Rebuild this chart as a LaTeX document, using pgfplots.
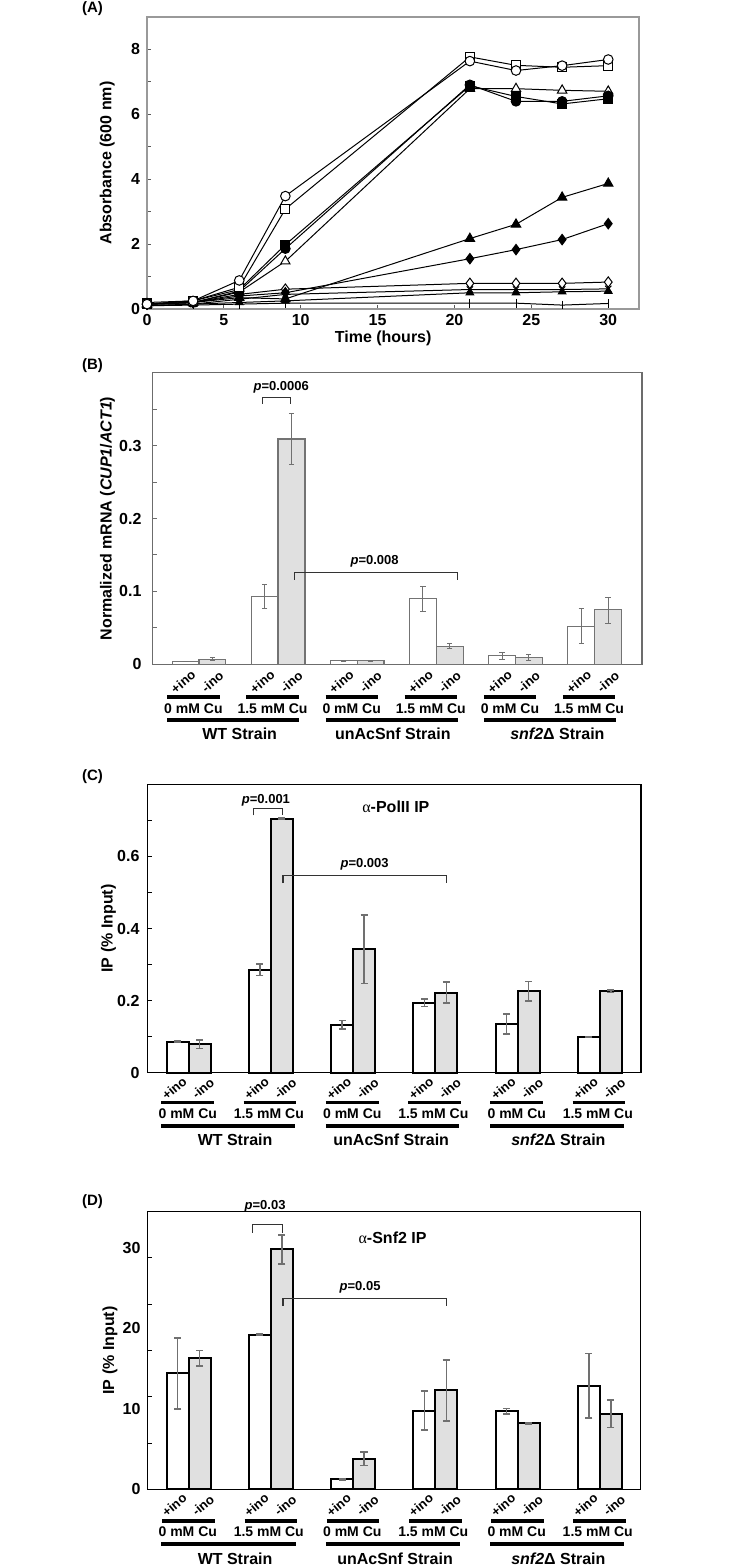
\documentclass[border=0pt]{standalone}
\usepackage{fontspec}
\setmainfont{Liberation Sans}
\newfontfamily\grk{Liberation Serif}
\usepackage{pgfplots}
\pgfplotsset{compat=1.18}
\newcommand\ftick{\bfseries\fontsize{8}{9.6}\selectfont}
\newcommand\flab{\bfseries\fontsize{8}{9.6}\selectfont}
\newcommand\fino{\bfseries\fontsize{6.5}{7.5}\selectfont}
\newcommand\fcu{\bfseries\fontsize{7}{8}\selectfont}
\newcommand\fstrain{\bfseries\fontsize{8}{9.6}\selectfont}
\newcommand\fpv{\bfseries\fontsize{6.5}{7.5}\selectfont}
\newcommand\fpanel{\bfseries\fontsize{7.5}{9}\selectfont}
\definecolor{barg}{HTML}{E0E0E0}
\definecolor{errg}{HTML}{707070}

\pgfplotstableread{
x y ep em
-0.1695 0.004 0.0005 0.0005
0.8305 0.093 0.017 0.017
1.8305 0.005 0.0005 0.0005
2.8305 0.090 0.017 0.018
3.8305 0.012 0.005 0.005
4.8305 0.052 0.024 0.024
}\Bwhite
\pgfplotstableread{
x y ep em
0.1695 0.007 0.002 0.002
1.1695 0.309 0.035 0.035
2.1695 0.005 0.0005 0.0005
3.1695 0.025 0.0035 0.0035
4.1695 0.010 0.004 0.004
5.1695 0.075 0.017 0.019
}\Bgray
\pgfplotstableread{
x y ep em
-0.1335 0.086 0.001 0.001
0.8665 0.286 0.016 0.016
1.8665 0.133 0.012 0.012
2.8665 0.194 0.010 0.010
3.8665 0.135 0.028 0.028
4.8665 0.098 0.001 0.001
}\Cwhite
\pgfplotstableread{
x y ep em
0.1335 0.079 0.012 0.012
1.1335 0.705 0.002 0.002
2.1335 0.342 0.095 0.095
3.1335 0.222 0.029 0.029
4.1335 0.226 0.027 0.027
5.1335 0.226 0.004 0.004
}\Cgray
\pgfplotstableread{
x y ep em
-0.1335 14.4 4.4 4.4
0.8665 19.2 0.1 0.1
1.8665 1.27 0.1 0.1
2.8665 9.8 2.45 2.45
3.8665 9.7 0.35 0.35
4.8665 12.9 4.0 4.0
}\Dwhite
\pgfplotstableread{
x y ep em
0.1335 16.3 0.95 0.95
1.1335 29.8 1.8 1.8
2.1335 3.8 0.85 0.85
3.1335 12.3 3.8 3.8
4.1335 8.2 0.05 0.05
5.1335 9.4 1.7 1.7
}\Dgray

\pgfplotsset{
  common/.style={
    scale only axis, anchor=north west, clip=false,
    tick label style={font=\ftick},
    /pgf/number format/assume math mode=true,
    ytick pos=left, xtick pos=bottom,
    major tick length=2pt, minor tick length=2pt,
  },
  barpanel/.style={
    common, ymin=0, xtick=\empty,
  },
  errB/.style={error bars/.cd, y dir=both, y explicit,
    error bar style={errg, line width=0.5pt},
    error mark options={errg, rotate=90, mark size=1.3pt, line width=0.5pt}},
  errC/.style={error bars/.cd, y dir=both, y explicit,
    error bar style={errg, line width=0.8pt},
    error mark options={errg, rotate=90, mark size=1.8pt, line width=0.8pt}},
}

\begin{document}
\begin{tikzpicture}[font=\bfseries]
\useasboundingbox (0,0) rectangle (365pt,-783.5pt);

% ---------------- Panel A ----------------
\node[anchor=east,font=\fpanel] at (55pt,-4.5pt) {(A)};
\begin{axis}[common,
  at={(73.5pt,-8.5pt)}, width=246pt, height=146pt,
  xmin=0, xmax=32, ymin=0, ymax=9,
  xtick={0,5,...,30}, ytick={0,2,4,6,8}, minor ytick={1,3,5,7},
  axis line style={gray!80, line width=0.7pt},
  tick style={gray!70!black, line width=0.5pt},
  xticklabel style={yshift=1pt},
  xlabel={Time (hours)}, ylabel={Absorbance (600 nm)},
  every axis y label/.style={at={(rel axis cs:-0.081,0.5)}, rotate=90, anchor=center, font=\flab},
  every axis x label/.style={at={(rel axis cs:0.48,0)}, yshift=-14.6pt, anchor=center, font=\flab},
  every axis plot/.append style={black, line width=0.5pt, mark options={solid}},
]
% plus marks
\addplot[mark=|, mark size=2.2pt] coordinates {(0,0.1) (3,0.12) (6,0.15) (9,0.18) (21,0.18) (24,0.18) (27,0.12) (30,0.17)};
% small filled triangle
\addplot[mark=triangle*, mark size=2.2pt] coordinates {(0,0.1) (3,0.15) (6,0.2) (9,0.25) (21,0.5) (24,0.5) (27,0.53) (30,0.55)};
% x marks
\addplot[mark=x, mark size=2.2pt] coordinates {(0,0.15) (3,0.15) (6,0.3) (9,0.45) (21,0.6) (24,0.6) (27,0.6) (30,0.62)};
% open diamond
\addplot[mark=diamond*, mark size=2.6pt, mark options={fill=white}] coordinates {(0,0.15) (3,0.2) (6,0.45) (9,0.61) (21,0.79) (24,0.79) (27,0.79) (30,0.83)};
% filled diamond
\addplot[mark=diamond*, mark size=2.6pt, mark options={fill=black}] coordinates {(0,0.15) (3,0.2) (6,0.4) (9,0.5) (21,1.55) (24,1.83) (27,2.14) (30,2.63)};
% filled triangle
\addplot[mark=triangle*, mark size=2.7pt, mark options={fill=black}] coordinates {(0,0.15) (3,0.2) (6,0.35) (9,0.31) (21,2.17) (24,2.61) (27,3.44) (30,3.87)};
% open triangle
\addplot[mark=triangle*, mark size=2.7pt, mark options={fill=white}] coordinates {(0,0.15) (3,0.2) (6,0.52) (9,1.47) (21,6.79) (24,6.79) (27,6.74) (30,6.71)};
% filled circle
\addplot[mark=*, mark size=2.4pt, mark options={fill=black}] coordinates {(0,0.15) (3,0.2) (6,0.55) (9,1.86) (21,6.91) (24,6.4) (27,6.4) (30,6.57)};
% filled square
\addplot[mark=square*, mark size=2.2pt, mark options={fill=black}] coordinates {(0,0.2) (3,0.25) (6,0.6) (9,1.98) (21,6.88) (24,6.55) (27,6.32) (30,6.48)};
% open square
\addplot[mark=square*, mark size=2.2pt, mark options={fill=white}] coordinates {(0,0.15) (3,0.25) (6,0.67) (9,3.08) (21,7.77) (24,7.51) (27,7.45) (30,7.5)};
% open circle
\addplot[mark=*, mark size=2.4pt, mark options={fill=white}] coordinates {(0,0.15) (3,0.25) (6,0.88) (9,3.48) (21,7.64) (24,7.35) (27,7.5) (30,7.69)};
\end{axis}

% ---------------- Panel B ----------------
\node[anchor=east,font=\fpanel] at (55pt,-183pt) {(B)};
\begin{axis}[barpanel,
  at={(76.25pt,-186.3pt)}, width=244.75pt, height=145.9pt,
  xmin=-0.587, xmax=5.599, ymax=0.4,
  ytick={0,0.1,0.2,0.3}, minor ytick={0.05,0.15,0.25,0.35},
  yticklabel style={xshift=-2pt},
  axis line style={gray!85!black, line width=0.6pt},
  tick style={gray!85!black, line width=0.5pt},
  ylabel={Normalized mRNA (\textit{CUP1}/\textit{ACT1})},
  every axis y label/.style={at={(rel axis cs:-0.092,0.5)}, rotate=90, anchor=center, font=\flab},
]
\addplot[ybar, bar width=0.339, bar shift=0pt, fill=white, draw=gray!90!black, line width=0.6pt, errB]
  table[x=x, y=y, y error plus=ep, y error minus=em] {\Bwhite};
\addplot[ybar, bar width=0.339, bar shift=0pt, fill=barg, draw=gray!90!black, line width=0.6pt, errB]
  table[x=x, y=y, y error plus=ep, y error minus=em] {\Bgray};
% p-value brackets
\draw[line width=0.6pt, black!80] (axis cs:0.80,0.357) -- (axis cs:0.80,0.366) -- (axis cs:1.152,0.366) -- (axis cs:1.152,0.357);
\node[font=\fpv] at (axis cs:1.04,0.380) {\textit{p}=0.0006};
\draw[line width=0.6pt, black!80] (axis cs:1.207,0.116) -- (axis cs:1.207,0.126) -- (axis cs:3.27,0.126) -- (axis cs:3.27,0.116);
\node[font=\fpv] at (axis cs:2.22,0.141) {\textit{p}=0.008};
% category labels
\pgfplotsinvokeforeach{0,1,2,3,4,5}{
  \path ([yshift=-8.7pt]axis cs:#1-0.2,0) node[rotate=40,font=\fino,inner sep=0pt] {+ino};
  \path ([yshift=-8.7pt]axis cs:#1+0.17,0) node[rotate=40,font=\fino,inner sep=0pt] {-ino};
  \draw[line width=1.8pt] ([yshift=-16.2pt]axis cs:#1-0.40,0) -- ([yshift=-16.2pt]axis cs:#1+0.26,0);
}
\pgfplotsinvokeforeach{0,2,4}{
  \path ([yshift=-22pt]axis cs:#1-0.07,0) node[font=\fcu] {0 mM Cu};
  \path ([yshift=-22pt]axis cs:#1+0.93,0) node[font=\fcu] {1.5 mM Cu};
  \draw[line width=1.8pt] ([yshift=-27.8pt]axis cs:#1-0.40,0) -- ([yshift=-27.8pt]axis cs:#1+1.27,0);
}
\path ([yshift=-34.8pt]axis cs:0.515,0) node[font=\fstrain] {WT Strain};
\path ([yshift=-34.8pt]axis cs:2.45,0) node[font=\fstrain] {unAcSnf Strain};
\path ([yshift=-34.8pt]axis cs:4.53,0) node[font=\fstrain] {\textit{snf2}Δ Strain};
\end{axis}

% ---------------- Panel C ----------------
\node[anchor=east,font=\fpanel] at (55pt,-388.5pt) {(C)};
\begin{axis}[barpanel,
  at={(73.75pt,-392.2pt)}, width=246.75pt, height=144.1pt,
  xmin=-0.5, xmax=5.5, ymax=0.8,
  ytick={0,0.2,0.4,0.6}, minor ytick={0.1,0.3,0.5,0.7},
  yticklabel style={xshift=-0.5pt},
  axis line style={black, line width=0.8pt},
  tick style={black, line width=0.5pt},
  ylabel={IP (\% Input)},
  every axis y label/.style={at={(rel axis cs:-0.079,0.5)}, rotate=90, anchor=center, font=\flab},
]
\addplot[ybar, bar width=0.267, bar shift=0pt, fill=white, draw=black, line width=1pt, errC]
  table[x=x, y=y, y error plus=ep, y error minus=em] {\Cwhite};
\addplot[ybar, bar width=0.267, bar shift=0pt, fill=barg, draw=black, line width=1pt, errC]
  table[x=x, y=y, y error plus=ep, y error minus=em] {\Cgray};
\draw[line width=0.6pt, black!80] (axis cs:0.79,0.714) -- (axis cs:0.79,0.734) -- (axis cs:1.138,0.734) -- (axis cs:1.138,0.714);
\node[font=\fpv] at (axis cs:0.94,0.757) {\textit{p}=0.001};
\draw[line width=0.6pt, black!80] (axis cs:1.147,0.526) -- (axis cs:1.147,0.547) -- (axis cs:3.136,0.547) -- (axis cs:3.136,0.526);
\node[font=\fpv] at (axis cs:2.14,0.577) {\textit{p}=0.003};
\node[font=\fstrain] at (axis cs:2.52,0.737) {{\grk\mdseries α}-PolII IP};
\pgfplotsinvokeforeach{0,1,2,3,4,5}{
  \path ([yshift=-7.8pt]axis cs:#1-0.175,0) node[rotate=40,font=\fino,inner sep=0pt] {+ino};
  \path ([yshift=-7.8pt]axis cs:#1+0.175,0) node[rotate=40,font=\fino,inner sep=0pt] {-ino};
  \draw[line width=1.8pt] ([yshift=-15pt]axis cs:#1-0.33,0) -- ([yshift=-15pt]axis cs:#1+0.31,0);
}
\pgfplotsinvokeforeach{0,2,4}{
  \path ([yshift=-20.7pt]axis cs:#1-0.01,0) node[font=\fcu] {0 mM Cu};
  \path ([yshift=-20.7pt]axis cs:#1+0.975,0) node[font=\fcu] {1.5 mM Cu};
  \draw[line width=1.8pt] ([yshift=-26.7pt]axis cs:#1-0.33,0) -- ([yshift=-26.7pt]axis cs:#1+1.29,0);
}
\path ([yshift=-33.7pt]axis cs:0.565,0) node[font=\fstrain] {WT Strain};
\path ([yshift=-33.7pt]axis cs:2.463,0) node[font=\fstrain] {unAcSnf Strain};
\path ([yshift=-33.7pt]axis cs:4.496,0) node[font=\fstrain] {\textit{snf2}Δ Strain};
\end{axis}

% ---------------- Panel D ----------------
\node[anchor=east,font=\fpanel] at (55pt,-601pt) {(D)};
\begin{axis}[barpanel,
  at={(73.75pt,-605.8pt)}, width=246.5pt, height=138.9pt,
  xmin=-0.5, xmax=5.495, ymax=34.5,
  ytick={0,10,20,30}, minor ytick={5.75,11.5,17.25,23,28.75},
  major tick length=0pt,
  axis line style={black, line width=0.8pt},
  tick style={black, line width=0.5pt},
  ylabel={IP (\% Input)},
  every axis y label/.style={at={(rel axis cs:-0.076,0.5)}, rotate=90, anchor=center, font=\flab},
]
\addplot[ybar, bar width=0.267, bar shift=0pt, fill=white, draw=black, line width=1pt, errC]
  table[x=x, y=y, y error plus=ep, y error minus=em] {\Dwhite};
\addplot[ybar, bar width=0.267, bar shift=0pt, fill=barg, draw=black, line width=1pt, errC]
  table[x=x, y=y, y error plus=ep, y error minus=em] {\Dgray};
\draw[line width=0.6pt, black!80] (axis cs:0.78,31.9) -- (axis cs:0.78,32.9) -- (axis cs:1.138,32.9) -- (axis cs:1.138,31.9);
\node[font=\fpv] at (axis cs:0.93,35.2) {\textit{p}=0.03};
\draw[line width=0.6pt, black!80] (axis cs:1.147,22.8) -- (axis cs:1.147,23.7) -- (axis cs:3.136,23.7) -- (axis cs:3.136,22.8);
\node[font=\fpv] at (axis cs:2.085,25.1) {\textit{p}=0.05};
\node[font=\fstrain] at (axis cs:2.48,31.3) {{\grk\mdseries α}-Snf2 IP};
\pgfplotsinvokeforeach{0,1,2,3,4,5}{
  \path ([yshift=-7.8pt]axis cs:#1-0.175,0) node[rotate=40,font=\fino,inner sep=0pt] {+ino};
  \path ([yshift=-7.8pt]axis cs:#1+0.175,0) node[rotate=40,font=\fino,inner sep=0pt] {-ino};
  \draw[line width=1.8pt] ([yshift=-15.7pt]axis cs:#1-0.32,0) -- ([yshift=-15.7pt]axis cs:#1+0.32,0);
}
\pgfplotsinvokeforeach{0,2,4}{
  \path ([yshift=-21.2pt]axis cs:#1-0.01,0) node[font=\fcu] {0 mM Cu};
  \path ([yshift=-21.2pt]axis cs:#1+0.975,0) node[font=\fcu] {1.5 mM Cu};
  \draw[line width=1.8pt] ([yshift=-27.3pt]axis cs:#1-0.33,0) -- ([yshift=-27.3pt]axis cs:#1+1.30,0);
}
\path ([yshift=-34.5pt]axis cs:0.565,0) node[font=\fstrain] {WT Strain};
\path ([yshift=-34.5pt]axis cs:2.51,0) node[font=\fstrain] {unAcSnf Strain};
\path ([yshift=-34.5pt]axis cs:4.496,0) node[font=\fstrain] {\textit{snf2}Δ Strain};
\end{axis}
\end{tikzpicture}
\end{document}
